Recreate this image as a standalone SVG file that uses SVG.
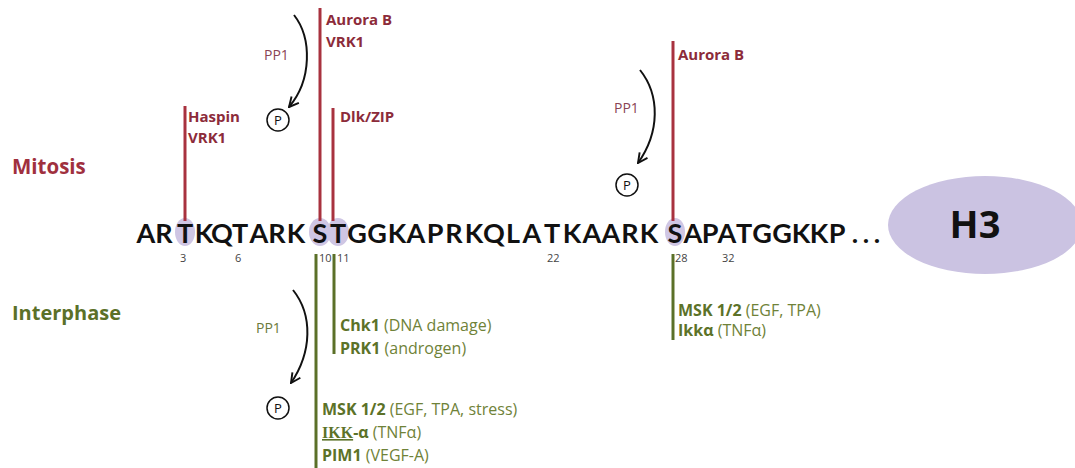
<svg xmlns="http://www.w3.org/2000/svg" width="1075" height="468" viewBox="0 0 1075 468">
<style>
.seq{font-family:Lato,"Liberation Sans",sans-serif;font-weight:700;font-size:27px;fill:#111;text-anchor:middle}
.num{font-family:"Open Sans","Liberation Sans",sans-serif;font-size:11px;fill:#444}
.rl{font-family:"Open Sans","Liberation Sans",sans-serif;font-weight:700;font-size:15px;fill:#8c2b3a}
.gl{font-family:"Open Sans","Liberation Sans",sans-serif;font-weight:700;font-size:16px;fill:#5c7228}
.gl tspan.n{font-weight:400;fill:#6f8238}
.pp{font-family:"Open Sans","Liberation Sans",sans-serif;font-size:14px}
.red{stroke:#a8323f;stroke-width:3}
.grn{stroke:#5b7028;stroke-width:3}
.arr{fill:none;stroke:#111;stroke-width:2;marker-end:url(#ah)}
.pc{fill:#fff;stroke:#111;stroke-width:1.5}
.pt{font-family:"Open Sans","Liberation Sans",sans-serif;font-size:13px;fill:#111;text-anchor:middle}
.hl{fill:#cfc6e4}
</style>
<defs>
<marker id="ah" viewBox="0 0 10 10" refX="9" refY="5" markerWidth="6" markerHeight="6" orient="auto" markerUnits="strokeWidth">
<path d="M1,1 L9,5 L1,9" fill="none" stroke="#111" stroke-width="1.6"/>
</marker>
</defs>
<rect width="1075" height="468" fill="#fff"/>

<g id="phase-labels">
<text x="12" y="174" font-family="'Open Sans','Liberation Sans',sans-serif" font-weight="700" font-size="20.5" fill="#a0303e">Mitosis</text>
<text x="12" y="320" font-family="'Open Sans','Liberation Sans',sans-serif" font-weight="700" font-size="20" fill="#5b7028">Interphase</text>
</g>

<g id="h3">
<ellipse cx="985" cy="225" rx="97" ry="49" fill="#cbc3e2"/>
<text x="975" y="238" font-family="'Open Sans','Liberation Sans',sans-serif" font-weight="700" font-size="38" fill="#111" text-anchor="middle">H3</text>
</g>

<g id="sequence">
<ellipse class="hl" cx="185" cy="232" rx="10" ry="14"/>
<ellipse class="hl" cx="320" cy="232" rx="11" ry="14"/>
<ellipse class="hl" cx="338" cy="232" rx="11" ry="14"/>
<ellipse class="hl" cx="675" cy="232" rx="10" ry="14"/>
<text class="seq" y="243" x="146 164 185 204 222 240 259 277 296 320 338 357 377 397 416 435 454 474 494 513 532 552 572 592 611 630 649 675 693 710 727 744 762 782 801 819 837 855 866 877">ARTKQTARKSTGGKAPRKQLATKAARKSAPATGGKKP...</text>
<text class="num" x="180" y="262">3</text>
<text class="num" x="235" y="262">6</text>
<text class="num" x="319" y="262">10</text>
<text class="num" x="337" y="262">11</text>
<text class="num" x="547" y="262">22</text>
<text class="num" x="675" y="262">28</text>
<text class="num" x="722" y="262">32</text>
</g>

<g id="connectors">
<line class="red" x1="185" y1="106" x2="185" y2="221"/>
<line class="red" x1="320" y1="8" x2="320" y2="221"/>
<line class="red" x1="333" y1="108" x2="333" y2="221"/>
<line class="red" x1="673" y1="41" x2="673" y2="221"/>
<line class="grn" x1="316" y1="254" x2="316" y2="468"/>
<line class="grn" x1="334" y1="254" x2="334" y2="354"/>
<line class="grn" x1="673" y1="254" x2="673" y2="340"/>
<path class="arr" d="M294,15 C312,38 312,80 289,107"/>
<path class="arr" d="M640,70 C660,95 660,132 638,163"/>
<path class="arr" d="M293,290 C313,315 312,352 291,383"/>
</g>

<g id="mitosis-labels">
<text class="rl" x="326" y="25">Aurora B</text>
<text class="rl" x="326" y="47">VRK1</text>
<text class="rl" x="188" y="122">Haspin</text>
<text class="rl" x="188" y="143">VRK1</text>
<text class="rl" x="340" y="122">Dlk/ZIP</text>
<text class="rl" x="678" y="60">Aurora B</text>
</g>

<g id="pp1">
<text class="pp" x="264" y="60" fill="#8a4454">PP1</text>
<text class="pp" x="614" y="113" fill="#8a4454">PP1</text>
<text class="pp" x="256" y="333" fill="#6c7a3a">PP1</text>
<circle class="pc" cx="278" cy="120" r="11"/>
<text class="pt" x="278" y="125">P</text>
<circle class="pc" cx="627" cy="185" r="11"/>
<text class="pt" x="627" y="190">P</text>
<circle class="pc" cx="278" cy="408" r="11"/>
<text class="pt" x="278" y="413">P</text>
</g>

<g id="interphase-labels">
<text class="gl" x="340" y="331">Chk1 <tspan class="n">(DNA damage)</tspan></text>
<text class="gl" x="340" y="354">PRK1 <tspan class="n">(androgen)</tspan></text>
<text class="gl" x="322" y="415">MSK 1/2 <tspan class="n">(EGF, TPA, stress)</tspan></text>
<text class="gl" x="322" y="438"><tspan font-family="'Liberation Serif',serif" text-decoration="underline">IKK</tspan>-α <tspan class="n">(TNFα)</tspan></text>
<text class="gl" x="322" y="461">PIM1 <tspan class="n">(VEGF-A)</tspan></text>
<text class="gl" x="678" y="316">MSK 1/2 <tspan class="n">(EGF, TPA)</tspan></text>
<text class="gl" x="678" y="336">Ikkα <tspan class="n">(TNFα)</tspan></text>
</g>
</svg>
